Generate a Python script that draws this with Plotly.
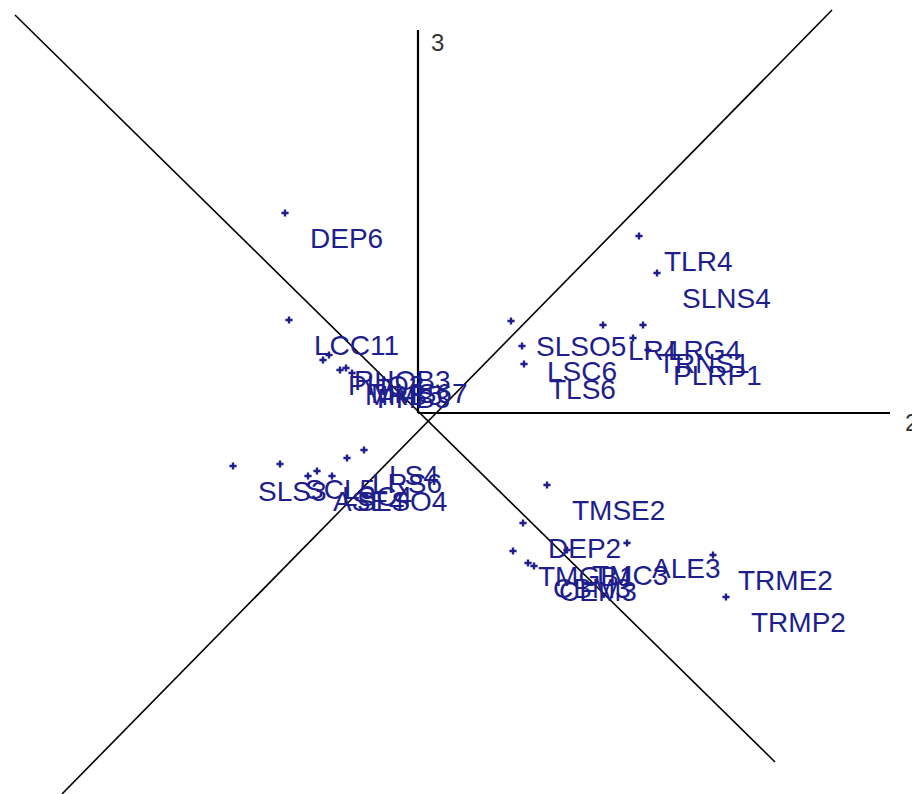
import plotly.graph_objects as go

# ---- data (dimension 2 = horizontal, dimension 3 = vertical) ----
labels = ["DEP6", "LCC11", "PHQ3", "RHOB3", "MRB5", "MMS67", "PHB3",
          "SLSO5", "LSC6", "TLS6", "LR4", "LRG4", "TRNS1", "PLRP1", "TLR4", "SLNS4",
          "SLS3", "SCL5", "ASE4", "LSC4", "SLSO4", "LRS6", "LS4",
          "TMSE2", "DEP2", "TMGB1", "TMC3", "CBM3", "CEM3", "ALE3", "TRME2", "TRMP2"]
dim2 = [-1.33, -1.29, -0.95, -0.89, -0.78, -0.72, -0.66,
        0.93, 1.04, 1.06, 1.85, 2.25, 2.15, 2.30, 2.21, 2.39,
        -1.85, -1.38, -1.10, -1.01, -0.86, -0.71, -0.54,
        1.29, 1.05, 0.95, 1.49, 1.10, 1.16, 2.09, 2.95, 3.08]
dim3 = [2.00, 0.93, 0.53, 0.58, 0.43, 0.45, 0.40,
        0.92, 0.67, 0.49, 0.88, 0.88, 0.75, 0.63, 1.77, 1.40,
        -0.53, -0.51, -0.63, -0.58, -0.63, -0.45, -0.37,
        -0.72, -1.10, -1.38, -1.37, -1.50, -1.53, -1.30, -1.42, -1.84]

# axis frame (vertical axis 3, horizontal axis 2, two diagonal guide lines)
axis3_x, axis3_y = [0, 0], [0, 3.83]
axis2_x, axis2_y = [0, 4.72], [0, 0]
diagA_x, diagA_y = [-4.03, 3.57], [3.98, -3.49]
diagB_x, diagB_y = [4.14, -3.56], [4.03, -3.81]

NAVY = "#1e1e8c"
FONT = "Liberation Sans, Arial, sans-serif"

fig = go.Figure()
for xs, ys, w in [(diagA_x, diagA_y, 1.6), (diagB_x, diagB_y, 1.6),
                  (axis3_x, axis3_y, 2.2), (axis2_x, axis2_y, 2.2)]:
    fig.add_trace(go.Scatter(x=xs, y=ys, mode="lines",
                             line=dict(color="black", width=w),
                             hoverinfo="skip", showlegend=False))

fig.add_trace(go.Scatter(x=dim2, y=dim3, mode="markers",
                         marker=dict(symbol="cross", size=6, color=NAVY),
                         text=labels, hoverinfo="text", showlegend=False))

for lab, xv, yv in zip(labels, dim2, dim3):
    fig.add_annotation(x=xv, y=yv, text=lab, showarrow=False,
                       xanchor="left", yanchor="middle", xshift=23, yshift=-25,
                       font=dict(family=FONT, size=28, color=NAVY))

fig.add_annotation(x=axis3_x[1], y=axis3_y[1], text="3", showarrow=False,
                   xanchor="left", yanchor="middle", xshift=11, yshift=-12,
                   font=dict(family=FONT, size=24, color="#333333"))
fig.add_annotation(x=axis2_x[1], y=axis2_y[1], text="2", showarrow=False,
                   xanchor="left", yanchor="middle", xshift=13, yshift=-9,
                   font=dict(family=FONT, size=24, color="#333333"))

fig.update_layout(
    width=912, height=794,
    margin=dict(l=0, r=0, t=0, b=0, pad=0),
    paper_bgcolor="white", plot_bgcolor="white",
    xaxis=dict(range=[-4.18, 4.94], visible=False, fixedrange=True),
    yaxis=dict(range=[-3.81, 4.13], visible=False, fixedrange=True),
    showlegend=False,
)

fig.write_html("out.html", config={"displayModeBar": False},
               post_script="document.body.style.margin='0';")
